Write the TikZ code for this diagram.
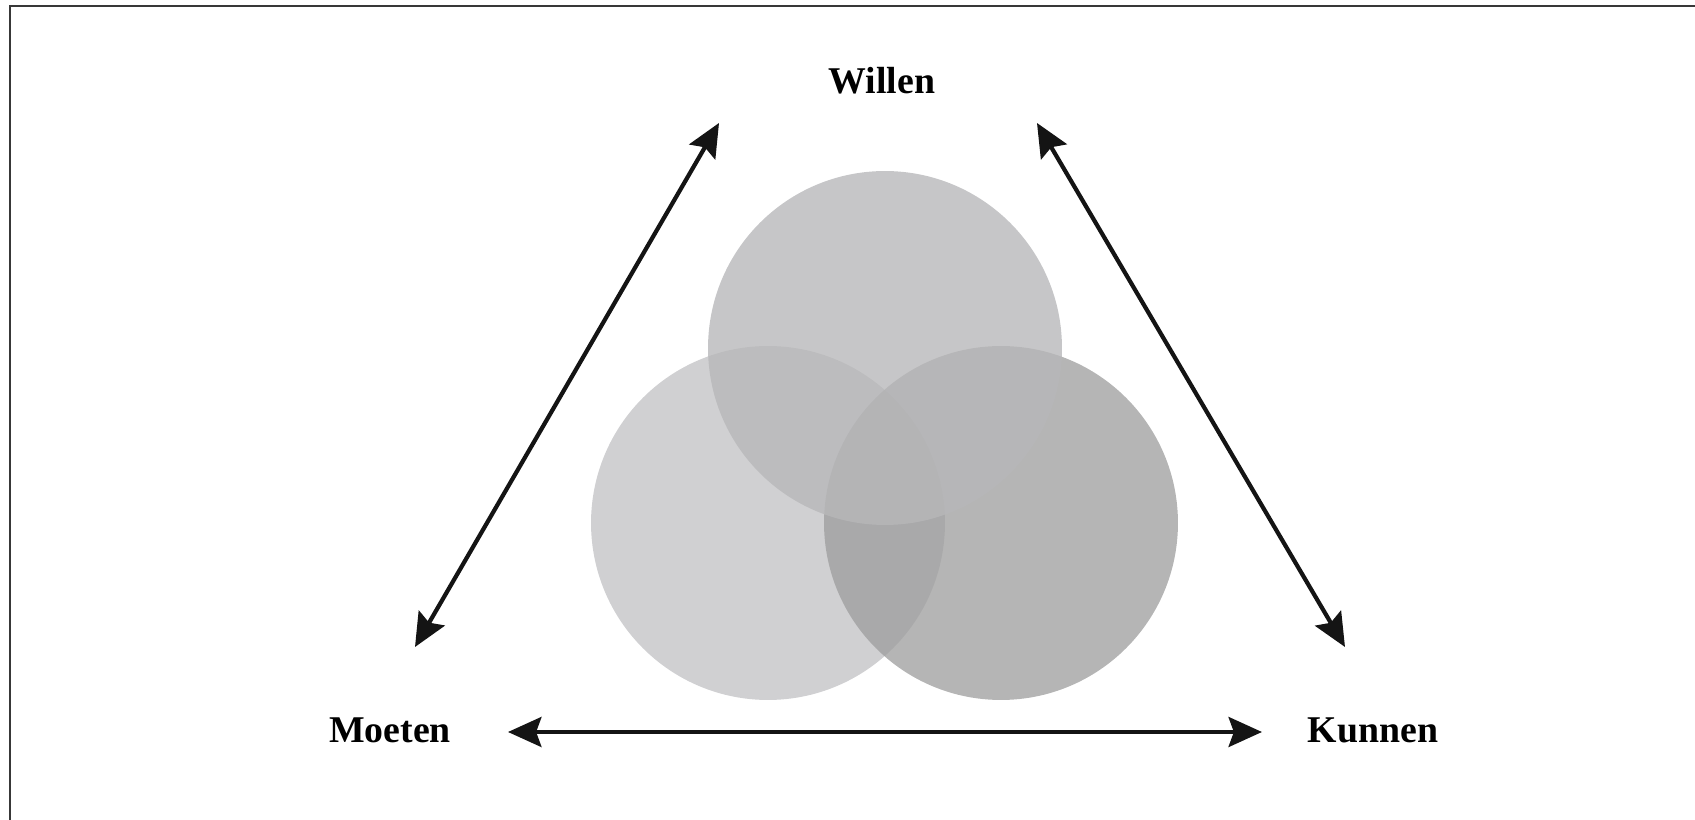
\documentclass[tikz,border=0pt]{standalone}
\usepackage{fontspec}
\setmainfont{Liberation Serif}
\usetikzlibrary{arrows.meta}
\definecolor{circL}{RGB}{208,208,210}
\definecolor{circR}{RGB}{158,158,158}
\definecolor{circT}{RGB}{183,183,185}
\begin{document}
\begin{tikzpicture}[
  x=0.02cm, y=-0.02cm,
  lbl/.style={font=\fontsize{21.5}{26}\selectfont\bfseries, anchor=base, inner sep=0pt},
  arr/.style={{Stealth[length=19pt, width=17pt, inset=3pt]}-{Stealth[length=19pt, width=17pt, inset=3pt]}, line width=2.4pt, black!92},
  frame/.style={line width=1.5pt, black!78}]
\useasboundingbox (0,0) rectangle (1695,820);
\draw[frame] (10,820) -- (10,6) -- (1695,6);
% circles
\fill[circL] (768,523) circle (3.54cm);
\fill[circR, fill opacity=0.76] (1001,523) circle (3.54cm);
\fill[circT, fill opacity=0.79] (885,348) circle (3.54cm);
% labels
\node[lbl] (willen) at (882,94) {Willen};
\node[lbl] (moeten) at (390,743) {Moeten};
\node[lbl] (kunnen) at (1373,743) {Kunnen};
% arrow ends
\coordinate (wl) at (719,123);
\coordinate (wr) at (1037,123);
\coordinate (ml) at (415,647);
\coordinate (mr) at (508,732);
\coordinate (kl) at (1262,732);
\coordinate (kr) at (1345,647);
\draw[arr] (ml) -- (wl);
\draw[arr] (wr) -- (kr);
\draw[arr] (mr) -- (kl);
\end{tikzpicture}
\end{document}
